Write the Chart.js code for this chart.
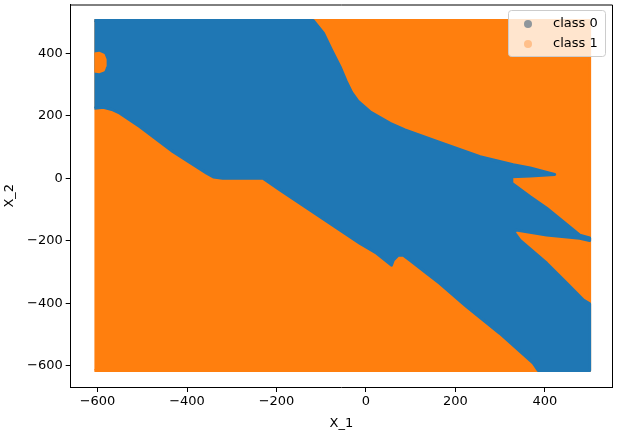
<!DOCTYPE html>
<html>
<head>
<meta charset="utf-8">
<script src="https://cdn.jsdelivr.net/npm/chart.js@4"></script>
<style>
  html, body { margin: 0; padding: 0; background: #fff; }
  canvas { display: block; }
</style>
</head>
<body>
<canvas id="monGraphique" width="621" height="438"></canvas>
<script>
// ticks des axes
const xTicks = [-600, -400, -200, 0, 200, 400];
const yTicks = [-600, -400, -200, 0, 200, 400];
const classNames = ['class 0', 'class 1'];

// zone orange (fond, class 1)
const orangeX = [-607, 500, 500, -607];
const orangeY = [505, 505, -615, -615];

// zone bleue (class 0), contour
const blueX = [-607, -118, -95, -77, -58, -44, -32, -18, 9, 54, 87, 165, 255, 329, 367, 411, 422, 367, 326,
  326, 367, 404, 441, 478, 500, 500, 478, 404, 336, 331, 344, 404, 449, 486, 500, 500, 385, 374, 299,
  225, 165, 136, 98, 83, 72, 61, 57, 24, -13, -125, -192, -230, -320, -341, -356, -431, -505, -550,
  -568, -587, -607];
const blueY = [505, 505, 464, 411, 357, 310, 275, 247, 213, 176, 155, 115, 69, 43, 33, 16, 12, 7, 5,
  -16, -59, -96, -139, -182, -191, -199, -192, -182, -166, -172, -198, -272, -336, -390, -402, -615, -615, -592, -496,
  -411, -336, -304, -262, -246, -246, -262, -278, -240, -209, -102, -38, 0, 0, 4, 16, 85, 165, 208,
  220, 227, 224];

// petite tache orange en haut à gauche
const blobX = [-607, -596, -587, -583, -583, -587, -596, -607];
const blobY = [398, 400, 394, 380, 360, 346, 341, 343];

function toPoints(xs, ys) {
    return xs.map((x, i) => ({ x: x, y: ys[i] }));
}

function zone(xs, ys, color, order) {
    return {
        data: toPoints(xs, ys),
        borderColor: color,
        backgroundColor: color,
        borderWidth: 3,
        borderJoinStyle: 'round',
        pointRadius: 0,
        pointHoverRadius: 0,
        tension: 0,
        fill: 'shape',
        order: order
    };
}

const bleu = '#1f77b4';
const orange = '#ff7f0e';
const legendColors = ['#8f969c', '#ffbf8a'];

// cadre du haut et de droite + légende façon matplotlib
const cadreEtLegende = {
    id: 'cadreEtLegende',
    afterDatasetsDraw(chart) {
        const ctx = chart.ctx;
        const a = chart.chartArea;
        ctx.save();
        ctx.strokeStyle = '#000';
        ctx.lineWidth = 1;
        ctx.beginPath();
        ctx.moveTo(a.left, a.top + 0.5);
        ctx.lineTo(a.right + 0.5, a.top + 0.5);
        ctx.lineTo(a.right + 0.5, a.bottom);
        ctx.stroke();

        // boîte de légende
        const bx = 508, by = 10, bw = 97, bh = 46;
        ctx.fillStyle = 'rgba(255,255,255,0.8)';
        ctx.strokeStyle = 'rgba(204,204,204,1)';
        ctx.beginPath();
        ctx.roundRect(bx + 0.5, by + 0.5, bw, bh, 3);
        ctx.fill();
        ctx.stroke();

        ctx.font = '13px "DejaVu Sans"';
        ctx.textBaseline = 'middle';
        ctx.textAlign = 'left';
        classNames.forEach((name, i) => {
            const cy = by + 14 + i * 20;
            ctx.fillStyle = legendColors[i];
            ctx.beginPath();
            ctx.arc(bx + 20, cy, 4, 0, Math.PI * 2);
            ctx.fill();
            ctx.fillStyle = '#000';
            ctx.fillText(name, bx + 45, cy);
        });
        ctx.restore();
    }
};

function minusLabel(value) {
    return String(value).replace('-', '\u2212');
}

const ctx = document.getElementById('monGraphique').getContext('2d');
new Chart(ctx, {
    type: 'line',
    data: {
        datasets: [
            zone(orangeX, orangeY, orange, 3),
            zone(blueX, blueY, bleu, 2),
            zone(blobX, blobY, orange, 1)
        ]
    },
    options: {
        responsive: false,
        animation: false,
        devicePixelRatio: 1,
        layout: { padding: { left: 0, right: 9, top: 4.5, bottom: 0 } },
        plugins: {
            legend: { display: false },
            tooltip: { enabled: false }
        },
        scales: {
            x: {
                type: 'linear',
                min: -660,
                max: 550,
                afterFit: function(scale) {
                    scale.height = 51;
                    scale.paddingLeft = 0;
                    scale.paddingRight = 0;
                },
                afterBuildTicks: function(scale) { scale.ticks = xTicks.map(v => ({ value: v })); },
                grid: { drawOnChartArea: false, color: '#000', tickLength: 5 },
                border: { color: '#000', width: 1 },
                ticks: {
                    color: '#000',
                    padding: 2,
                    maxRotation: 0,
                    font: { family: 'DejaVu Sans', size: 13 },
                    callback: minusLabel
                },
                title: {
                    display: true,
                    text: 'X_1',
                    color: '#000',
                    font: { family: 'DejaVu Sans', size: 13 },
                    padding: { top: 0, bottom: 7 }
                }
            },
            y: {
                type: 'linear',
                min: -668,
                max: 556,
                afterFit: function(scale) {
                    scale.width = 70.7;
                    scale.paddingTop = 0;
                    scale.paddingBottom = 0;
                },
                afterBuildTicks: function(scale) { scale.ticks = yTicks.map(v => ({ value: v })); },
                grid: { drawOnChartArea: false, color: '#000', tickLength: 5 },
                border: { color: '#000', width: 1 },
                ticks: {
                    color: '#000',
                    padding: 3,
                    font: { family: 'DejaVu Sans', size: 13 },
                    callback: minusLabel
                },
                title: {
                    display: true,
                    text: 'X_2',
                    color: '#000',
                    font: { family: 'DejaVu Sans', size: 13 },
                    padding: { top: 2, bottom: 0 }
                }
            }
        }
    },
    plugins: [cadreEtLegende]
});
</script>
</body>
</html>
